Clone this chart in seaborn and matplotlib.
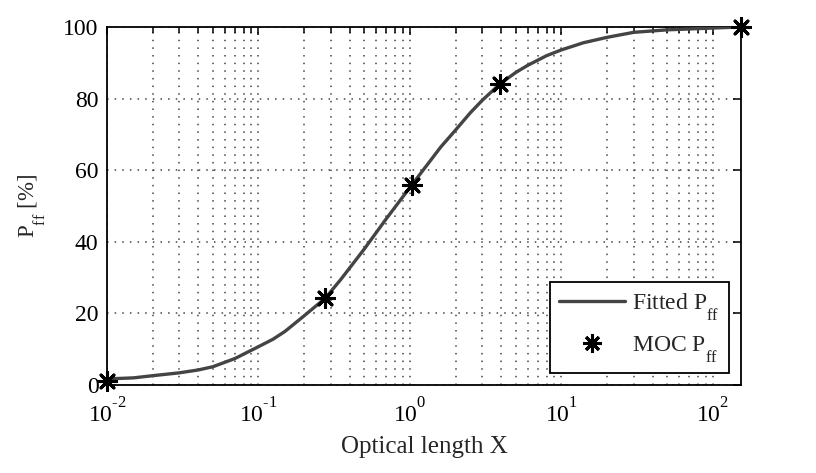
import matplotlib
matplotlib.use("Agg")
import matplotlib.pyplot as plt
import matplotlib._mathtext as _mt
import seaborn as sns
import pandas as pd
from matplotlib.ticker import LogLocator, NullFormatter, FixedLocator, FixedFormatter
from matplotlib.lines import Line2D

# Fitted curve
fit_x = [0.01, 0.015, 0.02, 0.03, 0.04, 0.05, 0.07, 0.1, 0.125, 0.15, 0.2, 0.277, 0.35, 0.5,
         0.7, 1.03, 1.3, 1.6, 2.0, 2.5, 3.0, 3.93, 5.0, 6.0, 8.0, 10.0, 14.0, 20.0, 30.0,
         50.0, 100.0, 153.0]
fit_y = [1.7, 2.0, 2.6, 3.4, 4.2, 5.1, 7.4, 10.7, 12.8, 15.0, 19.3, 24.3, 29.5, 38.0,
         46.5, 55.9, 61.5, 66.5, 71.2, 76.0, 79.5, 84.1, 87.3, 89.3, 92.0, 93.6, 95.6, 97.1,
         98.5, 99.2, 99.7, 100.0]
# MOC points
moc_x = [0.01, 0.277, 1.03, 3.93, 153.0]
moc_y = [1.1, 24.3, 55.9, 84.1, 100.0]

xtick_vals = [0.01, 0.1, 1, 10, 100]
xtick_labels = [r"$10^{\text{-}2}$", r"$10^{\text{-}1}$", r"$10^{0}$", r"$10^{1}$", r"$10^{2}$"]
ytick_vals = [0, 20, 40, 60, 80, 100]

sns.set_style("white")
plt.rcParams['font.family'] = ['Liberation Serif', 'DejaVu Serif']
plt.rcParams['mathtext.fontset'] = 'custom'
plt.rcParams['mathtext.rm'] = 'Liberation Serif'
plt.rcParams['mathtext.it'] = 'Liberation Serif'
# MATLAB-like placement of super/subscripts
_mt.FontConstantsBase.sup1 = 1.3
_mt.FontConstantsBase.sub1 = 1.0

fig = plt.figure(figsize=(8.16, 4.73), dpi=100)
ax = fig.add_axes([0.131, 0.186, 0.777, 0.757])

df_fit = pd.DataFrame({"x": fit_x, "y": fit_y})
df_moc = pd.DataFrame({"x": moc_x, "y": moc_y})

sns.lineplot(data=df_fit, x="x", y="y", ax=ax, color="#444444", linewidth=2.4,
             zorder=3, estimator=None, sort=True)
sns.scatterplot(data=df_moc, x="x", y="y", ax=ax, marker=(8, 2, 0), s=170,
                color="black", edgecolor="black", linewidth=2.2, zorder=4, clip_on=False)

ax.set_xscale("log")
ax.set_xlim(0.01, 153)
ax.set_ylim(0, 100)
ax.set_yticks(ytick_vals)
ax.xaxis.set_major_locator(FixedLocator(xtick_vals))
ax.xaxis.set_major_formatter(FixedFormatter(xtick_labels))
ax.xaxis.set_minor_locator(LogLocator(base=10, subs=range(2, 10), numticks=20))
ax.xaxis.set_minor_formatter(NullFormatter())

ax.grid(True, which="major", axis="both", linestyle=(0, (1, 4)), color="#444444", linewidth=1.1)
ax.grid(True, which="minor", axis="x", linestyle=(0, (1, 4)), color="#444444", linewidth=1.1)
ax.set_axisbelow(True)

for s in ax.spines.values():
    s.set_visible(True)
    s.set_color("black")
    s.set_linewidth(1.3)

ax.tick_params(which="both", direction="in", top=True, right=True, colors="black",
               labelsize=17, width=1.1)
ax.tick_params(which="major", length=6)
ax.tick_params(which="minor", length=4)
ax.tick_params(axis="x", which="major", pad=8.5)
ax.tick_params(axis="y", which="major", pad=6)

ax.set_xlabel("Optical length X", fontsize=18, labelpad=7)
ax.set_ylabel(r"P$_{\mathrm{ff}}$ [%]", fontsize=16.5, labelpad=12)

handles = [Line2D([0], [0], color="#444444", linewidth=2.4),
           Line2D([0], [0], marker=(8, 2, 0), color="black", linestyle="none",
                  markersize=13, markeredgewidth=2.2)]
leg = ax.legend(handles, [r"Fitted P$_{\mathrm{ff}}$", r"MOC P$_{\mathrm{ff}}$"],
                loc="lower right", fontsize=17, frameon=True, fancybox=False,
                framealpha=1, edgecolor="black", borderaxespad=0.5,
                handlelength=2.8, handletextpad=0.3, labelspacing=0.5, borderpad=0.4)
leg.get_frame().set_linewidth(1.3)

fig.savefig("out.png", dpi=100)
